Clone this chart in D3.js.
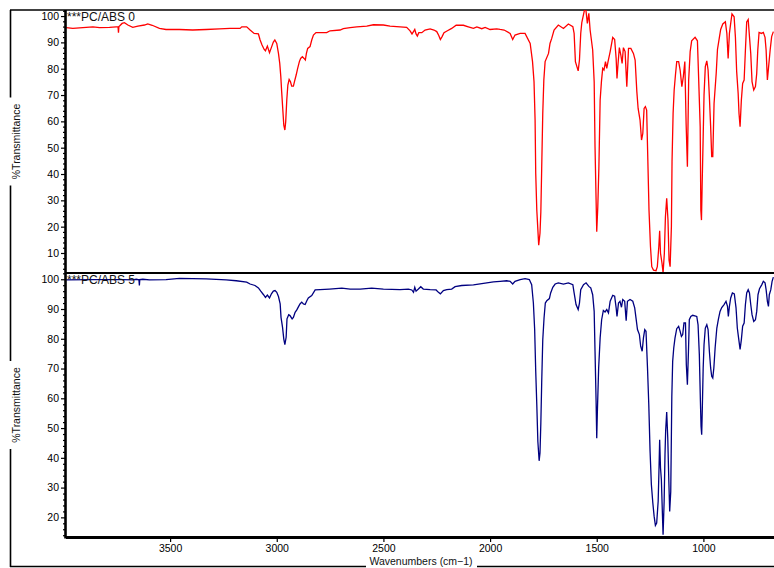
<!DOCTYPE html>
<html>
<head>
<meta charset="utf-8">
<script src="https://cdn.jsdelivr.net/npm/d3@7"></script>
<style>
  body { margin: 0; background: #fff; }
  svg { display: block; font-family: Arial, "Liberation Sans", sans-serif; }
</style>
</head>
<body>
<svg class="chart"></svg>
<script>
const xTicks = [3500, 3000, 2500, 2000, 1500, 1000]
const topTicks = [10, 20, 30, 40, 50, 60, 70, 80, 90, 100]
const botTicks = [20, 30, 40, 50, 60, 70, 80, 90, 100]
const seriesNames = ["***PC/ABS 0", "***PC/ABS 5"]

const pc0Wn = [3987,3956,3909,3862,3831,3784,3753,3744,3742,3740,3737,3725,3714,3698,3675,3651,3620,3605,3584,3550,3519,3456,3394,3331,3269,3219,3172,3164,3141,3125,3106,3086,3078,3069,3059,3053,3044,3034,3025,3016,3009,3000,2992,2986,2981,2977,2972,2967,2962,2958,2953,2948,2942,2936,2930,2922,2917,2909,2902,2894,2888,2880,2872,2866,2861,2855,2844,2836,2828,2816,2766,2750,2703,2688,2656,2625,2578,2547,2500,2469,2422,2391,2375,2366,2359,2353,2347,2341,2334,2320,2305,2281,2263,2250,2241,2233,2225,2216,2200,2180,2159,2125,2102,2078,2062,2039,2023,2000,1969,1953,1934,1906,1894,1883,1859,1836,1812,1801,1794,1789,1786,1781,1772,1766,1762,1758,1753,1748,1742,1726,1719,1711,1700,1680,1656,1633,1612,1606,1600,1587,1581,1575,1570,1553,1544,1537,1531,1519,1512,1508,1503,1500,1495,1490,1484,1478,1472,1466,1459,1453,1447,1437,1425,1416,1409,1405,1400,1394,1387,1381,1375,1367,1359,1351,1340,1328,1320,1312,1306,1297,1290,1284,1278,1272,1266,1261,1255,1248,1242,1234,1222,1216,1209,1205,1201,1194,1189,1183,1178,1172,1166,1161,1156,1150,1147,1142,1137,1131,1125,1116,1109,1101,1094,1087,1081,1075,1069,1062,1055,1039,1028,1022,1015,1012,1009,1006,1001,997,991,984,978,972,966,961,956,950,940,934,925,919,909,897,890,884,878,872,866,856,850,844,837,833,828,822,816,809,803,797,790,784,778,772,764,756,750,745,739,728,719,711,706,700,695,687,680,672]
const pc0T = [95.6,95.3,95.6,95.9,95.6,95.7,95.9,95.9,93.7,96.0,96.2,97.2,97.5,96.6,95.7,96.2,96.6,97.0,96.5,95.3,94.9,94.9,94.7,94.9,95.1,95.3,95.3,95.9,95.9,94.7,93.4,93.2,90.9,89.0,87.3,86.8,88.6,86.1,88.1,90.1,90.9,89.6,85.8,82.0,77.0,71.3,64.9,58.6,56.7,59.9,68.1,73.8,75.9,75.1,73.4,73.4,75.1,77.6,80.1,82.7,83.9,84.6,83.9,83.3,85.8,87.7,88.4,90.9,92.8,93.7,93.7,94.4,94.7,95.2,95.6,95.9,96.2,96.7,96.6,96.2,95.9,95.7,94.4,93.2,94.1,94.9,93.2,92.4,93.7,93.7,94.7,95.1,94.7,94.1,92.7,91.1,92.2,93.7,94.4,95.3,96.5,96.5,95.9,95.3,95.9,95.2,95.7,94.9,95.1,94.9,94.7,93.4,91.1,92.8,93.4,93.4,89.6,82.7,75.1,60.5,40.3,26.3,13.0,17.5,25.7,42.2,63.0,75.7,82.7,85.8,89.6,91.5,94.7,96.6,95.3,97.0,96.0,93.4,82.7,79.2,83.3,93.4,97.5,104,97.2,101,94.7,87.1,75.1,50.4,30.1,18.1,27.6,42.2,68.1,75.1,80.1,79.5,82.7,80.1,82.7,86.5,91.9,91.1,83.9,76.3,82.0,88.0,85.2,82.0,88.0,86.5,73.2,87.7,87.7,85.8,83.3,71.3,64.9,60.5,52.9,55.4,64.9,65.6,64.3,47.2,26.3,12.4,4.8,3.5,3.3,4.8,12.4,18.4,9.9,6.1,2.5,9.9,23.8,30.8,22.5,7.3,4.8,20.0,44.7,63.0,71.9,77.6,82.7,82.7,79.5,73.2,77.0,82.7,59.2,42.8,75.7,86.5,90.6,91.9,90.6,75.7,58.0,26.3,22.5,35.2,54.2,70.0,80.8,83.0,79.5,69.4,58.0,46.6,46.6,66.8,78.2,87.3,91.9,94.9,97.0,97.8,93.4,83.9,93.4,97.2,100.8,99.7,92.2,78.9,70.6,63.0,58.0,68.1,74.4,75.7,87.1,97.8,98.7,92.2,85.8,75.1,71.9,73.2,78.2,87.1,93.8,93.4,93.8,91.9,87.1,75.7,80.1,87.1,92.2,94.1]

const pc5Wn = [3987,3862,3722,3675,3659,3646,3644,3642,3628,3597,3519,3456,3394,3331,3237,3190,3141,3125,3102,3086,3075,3062,3053,3044,3034,3025,3016,3008,3000,2992,2984,2980,2973,2967,2962,2956,2952,2944,2938,2928,2922,2914,2906,2898,2891,2883,2875,2867,2859,2852,2836,2820,2797,2753,2695,2656,2609,2555,2500,2422,2383,2367,2359,2353,2347,2336,2325,2313,2281,2253,2242,2233,2219,2203,2180,2164,2133,2078,2031,1984,1953,1922,1906,1894,1883,1859,1836,1816,1805,1797,1791,1786,1781,1776,1770,1766,1762,1758,1753,1747,1741,1734,1722,1716,1706,1695,1680,1656,1633,1612,1606,1597,1587,1581,1575,1562,1550,1537,1528,1519,1512,1508,1503,1500,1497,1491,1484,1477,1469,1461,1453,1445,1437,1425,1416,1409,1405,1398,1391,1384,1378,1369,1362,1356,1344,1331,1322,1316,1309,1300,1294,1287,1281,1275,1269,1262,1256,1250,1244,1237,1231,1225,1219,1212,1208,1205,1201,1197,1192,1189,1184,1180,1177,1172,1167,1162,1158,1153,1148,1144,1139,1133,1125,1116,1109,1103,1097,1091,1084,1080,1075,1070,1066,1059,1050,1031,1025,1019,1014,1011,1008,1005,1001,997,991,984,978,972,966,961,956,951,945,937,930,922,914,903,894,887,883,878,872,864,855,847,841,834,828,822,816,809,803,797,790,784,778,772,764,756,750,744,737,726,719,711,706,700,695,691,684,678,672]
const pc5T = [99.8,99.9,99.9,99.8,100.0,99.8,97.9,99.9,100.0,99.8,99.9,100.3,100.2,100.1,99.8,99.5,99.0,98.4,97.9,97.1,96.0,94.8,93.9,94.7,93.7,95.1,96.0,96.2,95.6,94.2,91.7,87.2,83.9,79.9,78.0,80.5,86.7,88.1,87.8,86.7,87.2,88.9,89.7,90.8,91.7,92.3,91.7,91.5,92.8,93.7,94.5,96.4,96.5,96.7,97.0,96.7,96.7,97.0,96.7,96.5,96.7,96.4,95.6,97.3,96.0,96.7,97.5,96.7,96.5,96.4,95.6,95.1,96.2,96.5,96.7,97.5,97.9,98.1,98.6,99.1,99.3,99.5,99.3,98.4,99.3,99.9,100.2,99.9,98.2,92.0,83.1,69.1,57.9,45.5,39.0,41.6,51.7,65.2,79.7,87.0,92.0,92.8,93.5,95.4,97.3,98.4,98.8,98.4,98.8,98.2,95.4,91.5,89.8,92.0,96.5,98.2,98.8,97.6,97.1,94.8,89.2,75.8,59.0,46.6,55.6,70.2,80.3,86.4,89.5,89.0,89.8,88.7,92.6,94.6,94.3,90.4,87.5,92.0,92.6,90.6,93.2,92.6,86.1,92.6,93.2,92.6,90.4,87.0,83.1,81.4,77.5,75.8,80.3,83.1,82.5,70.2,57.9,42.3,31.1,24.8,20.4,17.3,18.1,25.4,36.6,46.1,36.6,32.7,20.9,14.2,25.4,41.1,48.9,55.4,46.6,32.1,22.0,28.7,60.6,72.4,76.9,80.3,83.4,84.2,82.5,80.8,81.4,85.3,85.3,71.3,64.6,75.8,86.4,87.5,87.9,87.5,84.7,74.6,59.0,50.6,47.8,56.7,70.2,78.0,83.6,84.7,83.1,75.8,70.2,67.4,66.8,70.2,76.9,83.6,86.4,89.2,90.5,91.5,92.6,90.9,87.5,90.9,93.7,95.4,95.1,90.4,83.6,79.7,76.4,79.7,84.2,85.3,91.5,95.4,96.5,95.4,91.5,88.1,85.8,86.4,89.2,94.8,96.8,98.2,99.3,98.8,96.5,92.6,90.9,94.8,96.5,99.3,100.7]

const W = 774,
      H = 568,
      plotLeft = 66,
      plotRight = 774,
      plotTop = 10,
      plotMid = 273,
      plotBottom = 537

const svg = d3.select(".chart")
    .attr("width", W)
    .attr("height", H)

svg.append("rect")
    .attr("width", W)
    .attr("height", H)
    .attr("fill", "#fff")

const x = d3.scaleLinear().domain([3988, 669]).range([plotLeft, plotRight])
const yTop = d3.scaleLinear().domain([2.4, 102.3]).range([plotMid, plotTop])
const yBot = d3.scaleLinear().domain([13.4, 102.1]).range([plotBottom, plotMid])

// outer frame
const frame = svg.append("g")
    .attr("stroke", "#000")
    .attr("stroke-width", 1.6)
frame.append("line").attr("x1", 10).attr("x2", W).attr("y1", 10).attr("y2", 10)
frame.append("line").attr("x1", 10.5).attr("x2", 10.5).attr("y1", 10).attr("y2", 567)
frame.append("line").attr("x1", 10).attr("x2", W).attr("y1", 566.5).attr("y2", 566.5)

const panels = [
  { name: seriesNames[0], wn: pc0Wn, t: pc0T, y: yTop, ticks: topTicks, y0: plotTop, y1: plotMid, color: "#ff0000" },
  { name: seriesNames[1], wn: pc5Wn, t: pc5T, y: yBot, ticks: botTicks, y0: plotMid, y1: plotBottom, color: "#000080" }
]

panels.forEach((p, i) => {
  svg.append("clipPath")
      .attr("id", "clip" + i)
    .append("rect")
      .attr("x", plotLeft)
      .attr("y", p.y0)
      .attr("width", plotRight - plotLeft)
      .attr("height", p.y1 - p.y0)

  const line = d3.line()
      .x((d, j) => x(p.wn[j]))
      .y((d) => p.y(d))

  svg.append("path")
      .datum(p.t)
      .attr("clip-path", "url(#clip" + i + ")")
      .attr("fill", "none")
      .attr("stroke", p.color)
      .attr("stroke-width", 1.3)
      .attr("d", line)

  const lo = p.y.domain()[0], hi = p.y.domain()[1]
  const minor = d3.range(Math.ceil(lo / 2) * 2, hi, 2).filter((v) => v % 10 !== 0)

  svg.append("g")
      .attr("transform", `translate(${plotLeft},0)`)
      .call(d3.axisLeft(p.y).tickValues(minor).tickSize(3).tickFormat(""))
      .call((g) => g.select(".domain").remove())
      .selectAll("line").attr("stroke-width", 1.2)

  svg.append("g")
      .attr("transform", `translate(${plotLeft},0)`)
      .call(d3.axisLeft(p.y).tickValues(p.ticks).tickSize(5).tickPadding(2))
      .call((g) => g.select(".domain").remove())
      .call((g) => g.selectAll("line").attr("stroke-width", 1.2))
      .call((g) => g.selectAll("text")
        .attr("fill", "#000")
        .style("font-size", "10.5px")
        .style("font-family", "Arial, 'Liberation Sans', sans-serif"))

  svg.append("text")
      .attr("x", 67)
      .attr("y", p.y0 + 11)
      .attr("fill", "#111")
      .style("font-size", "12px")
      .text(p.name)

  const cy = (p.y0 + p.y1) / 2
  svg.append("rect")
      .attr("x", 4)
      .attr("y", cy - 44)
      .attr("width", 18)
      .attr("height", 88)
      .attr("fill", "#fff")
  svg.append("text")
      .attr("transform", `translate(20,${cy}) rotate(-90)`)
      .attr("text-anchor", "middle")
      .attr("fill", "#111")
      .style("font-size", "10.5px")
      .text("%Transmittance")
})

svg.append("g")
    .attr("transform", `translate(0,${plotBottom})`)
    .call(d3.axisBottom(x).tickValues(xTicks).tickSize(5).tickPadding(3).tickFormat(d3.format("d")))
    .call((g) => g.select(".domain").remove())
    .call((g) => g.selectAll("line").attr("stroke-width", 1.2))
    .call((g) => g.selectAll("text")
      .attr("fill", "#000")
      .style("font-size", "10.5px")
      .style("font-family", "Arial, 'Liberation Sans', sans-serif"))

// plot axes
const axes = svg.append("g").attr("stroke", "#000")
axes.append("line").attr("x1", 65.5).attr("x2", 65.5).attr("y1", plotTop).attr("y2", plotBottom + 1.5).attr("stroke-width", 2.6)
axes.append("line").attr("x1", plotLeft).attr("x2", plotRight).attr("y1", plotMid).attr("y2", plotMid).attr("stroke-width", 1.8)
axes.append("line").attr("x1", plotLeft).attr("x2", plotRight).attr("y1", 537.5).attr("y2", 537.5).attr("stroke-width", 2.8)

svg.append("rect")
    .attr("x", 366)
    .attr("y", 554)
    .attr("width", 111)
    .attr("height", 14)
    .attr("fill", "#fff")
svg.append("text")
    .attr("x", 421)
    .attr("y", 565)
    .attr("text-anchor", "middle")
    .attr("fill", "#111")
    .style("font-size", "10.5px")
    .text("Wavenumbers (cm\u22121)")
</script>
</body>
</html>
